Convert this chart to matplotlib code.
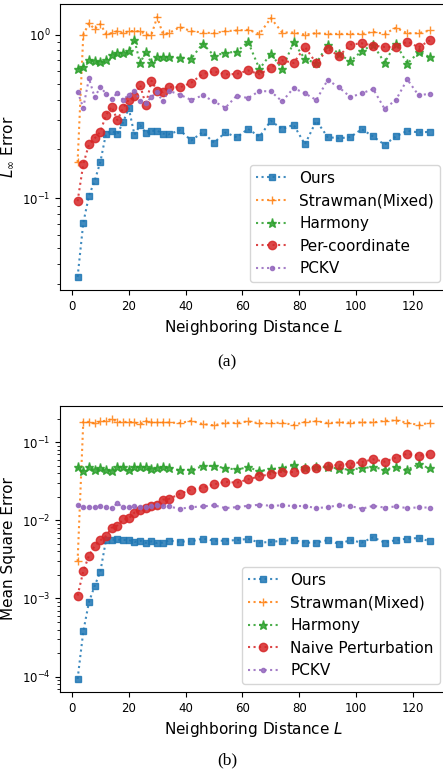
import numpy as np
import matplotlib
matplotlib.use('Agg')
import matplotlib.pyplot as plt

# neighboring distance L
dist = list(range(2, 35, 2)) + list(range(38, 127, 4))

# (a) L_inf error
linf_ours = [0.0332, 0.071, 0.104, 0.128, 0.167, 0.249, 0.259, 0.247, 0.292, 0.356,
             0.245, 0.280, 0.251, 0.259, 0.259, 0.249, 0.246, 0.261, 0.226, 0.254,
             0.219, 0.253, 0.236, 0.266, 0.238, 0.298, 0.265, 0.282, 0.214, 0.298,
             0.237, 0.233, 0.237, 0.265, 0.239, 0.213, 0.239, 0.259, 0.253, 0.255]
linf_straw = [0.167, 1.0, 1.17, 1.08, 1.16, 1.01, 1.02, 1.05, 1.02, 1.05,
              1.05, 1.05, 1.0, 1.0, 1.28, 1.01, 1.02, 1.11, 1.05, 1.03,
              1.02, 1.05, 1.06, 1.07, 1.01, 1.26, 1.03, 1.03, 1.0, 1.02,
              1.01, 1.01, 1.01, 1.01, 1.04, 1.01, 1.10, 1.02, 1.02, 1.06]
linf_harmony = [0.617, 0.637, 0.703, 0.687, 0.677, 0.700, 0.755, 0.769, 0.769, 0.791,
                0.928, 0.668, 0.787, 0.668, 0.727, 0.727, 0.727, 0.724, 0.714, 0.881,
                0.744, 0.773, 0.787, 0.902, 0.617, 0.765, 0.617, 0.898, 0.710, 0.668,
                0.869, 0.762, 0.687, 0.795, 0.869, 0.674, 0.881, 0.665, 0.780, 0.730]
linf_percoord = [0.0963, 0.162, 0.214, 0.233, 0.255, 0.323, 0.363, 0.301, 0.356, 0.401,
                 0.424, 0.492, 0.372, 0.523, 0.453, 0.447, 0.481, 0.476, 0.509, 0.575,
                 0.597, 0.572, 0.575, 0.605, 0.572, 0.628, 0.697, 0.671, 0.841, 0.668,
                 0.817, 0.741, 0.869, 0.885, 0.857, 0.841, 0.837, 0.906, 0.837, 0.923]
linf_pckv = [0.448, 0.358, 0.541, 0.414, 0.479, 0.436, 0.405, 0.442, 0.399, 0.430,
             0.453, 0.395, 0.381, 0.418, 0.444, 0.391, 0.455, 0.430, 0.399, 0.426,
             0.391, 0.358, 0.424, 0.410, 0.453, 0.450, 0.391, 0.472, 0.438, 0.399,
             0.529, 0.476, 0.416, 0.438, 0.466, 0.353, 0.399, 0.533, 0.426, 0.436]

# (b) mean square error
mse_ours = [9.3e-5, 3.78e-4, 9.0e-4, 1.45e-3, 2.21e-3, 5.62e-3, 5.66e-3, 5.7e-3, 5.62e-3, 5.6e-3,
            5.3e-3, 5.5e-3, 5.16e-3, 5.4e-3, 5.1e-3, 5.2e-3, 5.5e-3, 5.35e-3, 5.4e-3, 5.84e-3,
            5.5e-3, 5.5e-3, 5.6e-3, 5.8e-3, 5.2e-3, 5.3e-3, 5.5e-3, 5.6e-3, 5.2e-3, 5.2e-3,
            5.6e-3, 4.99e-3, 5.6e-3, 5.2e-3, 6.08e-3, 5.2e-3, 5.6e-3, 5.84e-3, 5.95e-3, 5.4e-3]
mse_straw = [3.0e-3, 0.184, 0.183, 0.175, 0.186, 0.189, 0.199, 0.184, 0.183, 0.183,
             0.180, 0.172, 0.187, 0.180, 0.180, 0.180, 0.180, 0.177, 0.189, 0.172,
             0.165, 0.179, 0.177, 0.186, 0.175, 0.177, 0.179, 0.167, 0.183, 0.187,
             0.177, 0.180, 0.179, 0.180, 0.180, 0.189, 0.191, 0.179, 0.167, 0.179]
mse_harmony = [0.0479, 0.0434, 0.0488, 0.0447, 0.0465, 0.0447, 0.0434, 0.0479, 0.0483, 0.0447,
               0.0483, 0.0479, 0.0479, 0.0456, 0.0465, 0.0488, 0.0474, 0.0438, 0.0447, 0.0493,
               0.0503, 0.0465, 0.0451, 0.0479, 0.0430, 0.0451, 0.0474, 0.0512, 0.0469, 0.0479,
               0.0483, 0.0460, 0.0447, 0.0469, 0.0483, 0.0447, 0.0483, 0.0447, 0.0523, 0.0465]
mse_naive = [1.09e-3, 2.23e-3, 3.54e-3, 4.71e-3, 5.56e-3, 6.32e-3, 8.08e-3, 8.6e-3, 1.03e-2, 1.06e-2,
             1.26e-2, 1.35e-2, 1.43e-2, 1.52e-2, 1.58e-2, 1.85e-2, 1.88e-2, 2.18e-2, 2.48e-2, 2.63e-2,
             2.9e-2, 3.13e-2, 3.04e-2, 3.36e-2, 3.67e-2, 3.93e-2, 4.21e-2, 4.17e-2, 4.56e-2, 4.69e-2,
             5.03e-2, 5.13e-2, 5.33e-2, 5.6e-2, 6.06e-2, 5.66e-2, 6.37e-2, 7.16e-2, 6.75e-2, 7.02e-2]
mse_pckv = [0.0156, 0.0147, 0.0150, 0.0147, 0.0151, 0.0147, 0.0144, 0.0166, 0.0147, 0.0147,
            0.0151, 0.0148, 0.0150, 0.0154, 0.0156, 0.0154, 0.0151, 0.0141, 0.0148, 0.0151,
            0.0156, 0.0144, 0.0148, 0.0154, 0.0159, 0.0154, 0.0156, 0.0153, 0.0153, 0.0144,
            0.0148, 0.0157, 0.0153, 0.0141, 0.0154, 0.0146, 0.0151, 0.0144, 0.0147, 0.0146]

styles = [('s', 5), ('+', 6), ('*', 6.5), ('o', 6), ('.', 6)]
colors = ['tab:blue', 'tab:orange', 'tab:green', 'tab:red', 'tab:purple']


def draw(ax, series, labels, ylabel):
    for vals, lab, (mk, ms), c in zip(series, labels, styles, colors):
        ax.plot(dist, vals, linestyle=':', marker=mk, markersize=ms, color=c,
                alpha=0.85, label=lab)
    ax.set_yscale('log')
    ax.set_xlabel('Neighboring Distance $L$', fontsize=11)
    ax.set_ylabel(ylabel, fontsize=11)
    ax.tick_params(labelsize=8.5)
    ax.legend(loc='lower right', fontsize=11)


fig = plt.figure(figsize=(4.43, 7.77), dpi=100)
ax1 = fig.add_axes([0.1354, 0.6268, 0.875, 0.368])
ax2 = fig.add_axes([0.1354, 0.1094, 0.875, 0.368])

draw(ax1, [linf_ours, linf_straw, linf_harmony, linf_percoord, linf_pckv],
     ['Ours', 'Strawman(Mixed)', 'Harmony', 'Per-coordinate', 'PCKV'],
     r'$L_\infty$ Error')
draw(ax2, [mse_ours, mse_straw, mse_harmony, mse_naive, mse_pckv],
     ['Ours', 'Strawman(Mixed)', 'Harmony', 'Naive Perturbation', 'PCKV'],
     'Mean Square Error')

fig.text(0.512, 1 - 362 / 777, '(a)', family='Liberation Serif', fontsize=12.5,
         ha='center', va='center')
fig.text(0.512, 1 - 760 / 777, '(b)', family='Liberation Serif', fontsize=12.5,
         ha='center', va='center')

fig.savefig('out.png', dpi=100)
